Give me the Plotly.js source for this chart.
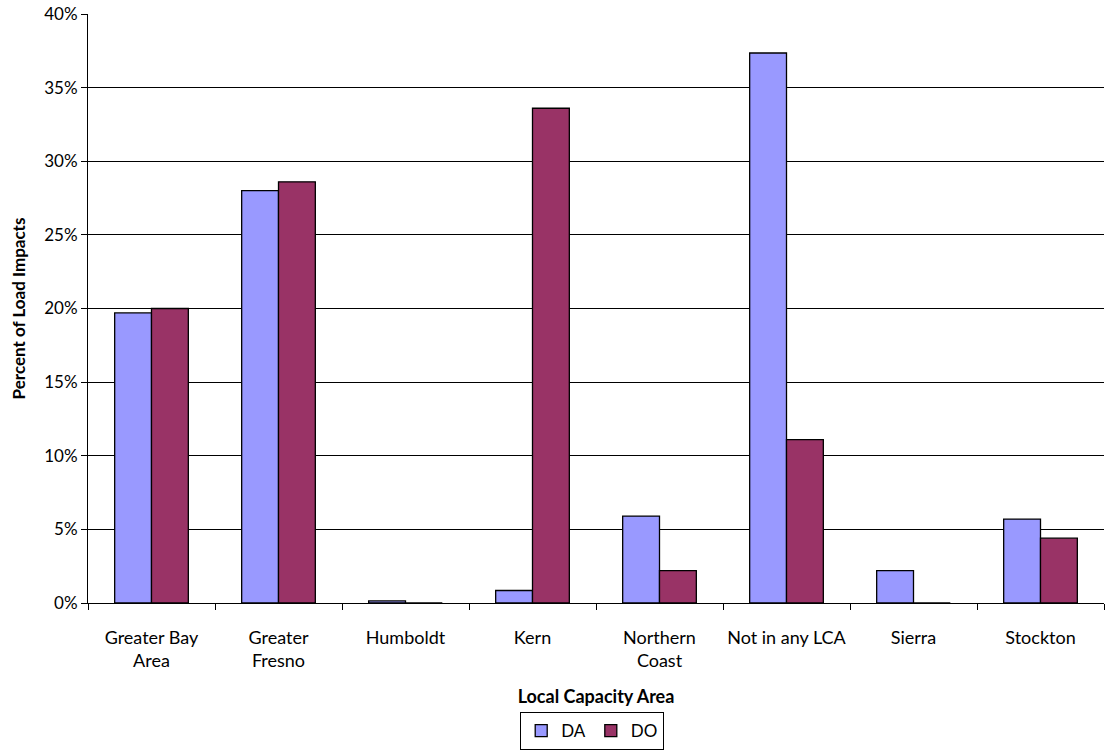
<!DOCTYPE html>
<html>
<head>
<meta charset="utf-8">
<script src="https://cdn.plot.ly/plotly-3.0.1.min.js"></script>
<style>html,body{margin:0;padding:0;background:#fff;}#chart{width:1109px;height:753px;}</style>
</head>
<body>
<div id="chart"></div>
<script>
const categories = ["Greater Bay<br>Area", "Greater<br>Fresno", "Humboldt", "Kern", "Northern<br>Coast", "Not in any LCA", "Sierra", "Stockton"];
const daValues = [0.197, 0.280, 0.0014, 0.0085, 0.059, 0.3735, 0.022, 0.057];
const doValues = [0.200, 0.286, 0, 0.336, 0.022, 0.111, 0, 0.044];
const yTicks = [0, 0.05, 0.10, 0.15, 0.20, 0.25, 0.30, 0.35, 0.40];
const yTickLabels = ["0%", "5%", "10%", "15%", "20%", "25%", "30%", "35%", "40%"];

const font = "Lato, 'Open Sans', sans-serif";
const data = [
  {type: "bar", name: "DA", x: categories, y: daValues,
   marker: {color: "#9999ff", line: {color: "#000000", width: 1.3}}},
  {type: "bar", name: "DO", x: categories, y: doValues,
   marker: {color: "#993366", line: {color: "#000000", width: 1.3}}}
];
const layout = {
  width: 1109, height: 753,
  margin: {l: 88, r: 5, t: 14, b: 150},
  paper_bgcolor: "#ffffff", plot_bgcolor: "#ffffff",
  font: {family: font, size: 17, color: "#000000"},
  barmode: "group", bargap: 0.42, bargroupgap: 0,
  showlegend: true,
  legend: {orientation: "h", x: 0.534, xanchor: "center", xref: "container",
           y: 0.004, yanchor: "bottom", yref: "container",
           bordercolor: "#000000", borderwidth: 1, font: {size: 17},
           itemwidth: 30, tracegroupgap: 0},
  xaxis: {
    tickson: "boundaries", ticks: "outside", ticklen: 6, tickcolor: "#000",
    showline: true, linecolor: "#000", linewidth: 1, mirror: false,
    showgrid: false, tickfont: {size: 18}, ticklabelstandoff: 18, tickangle: 0,
    title: {text: "<b>Local Capacity Area</b>", font: {size: 18}, standoff: 20}
  },
  yaxis: {
    range: [0, 0.40], tickvals: yTicks, ticktext: yTickLabels,
    ticks: "outside", ticklen: 6, tickcolor: "#000",
    showline: true, linecolor: "#000", linewidth: 1,
    showgrid: true, gridcolor: "#000000", gridwidth: 1,
    zeroline: false, tickfont: {size: 17},
    title: {text: "<b>Percent of Load Impacts</b>", font: {size: 17}, standoff: 14}
  }
};
Plotly.newPlot("chart", data, layout, {displayModeBar: false});
</script>
</body>
</html>
